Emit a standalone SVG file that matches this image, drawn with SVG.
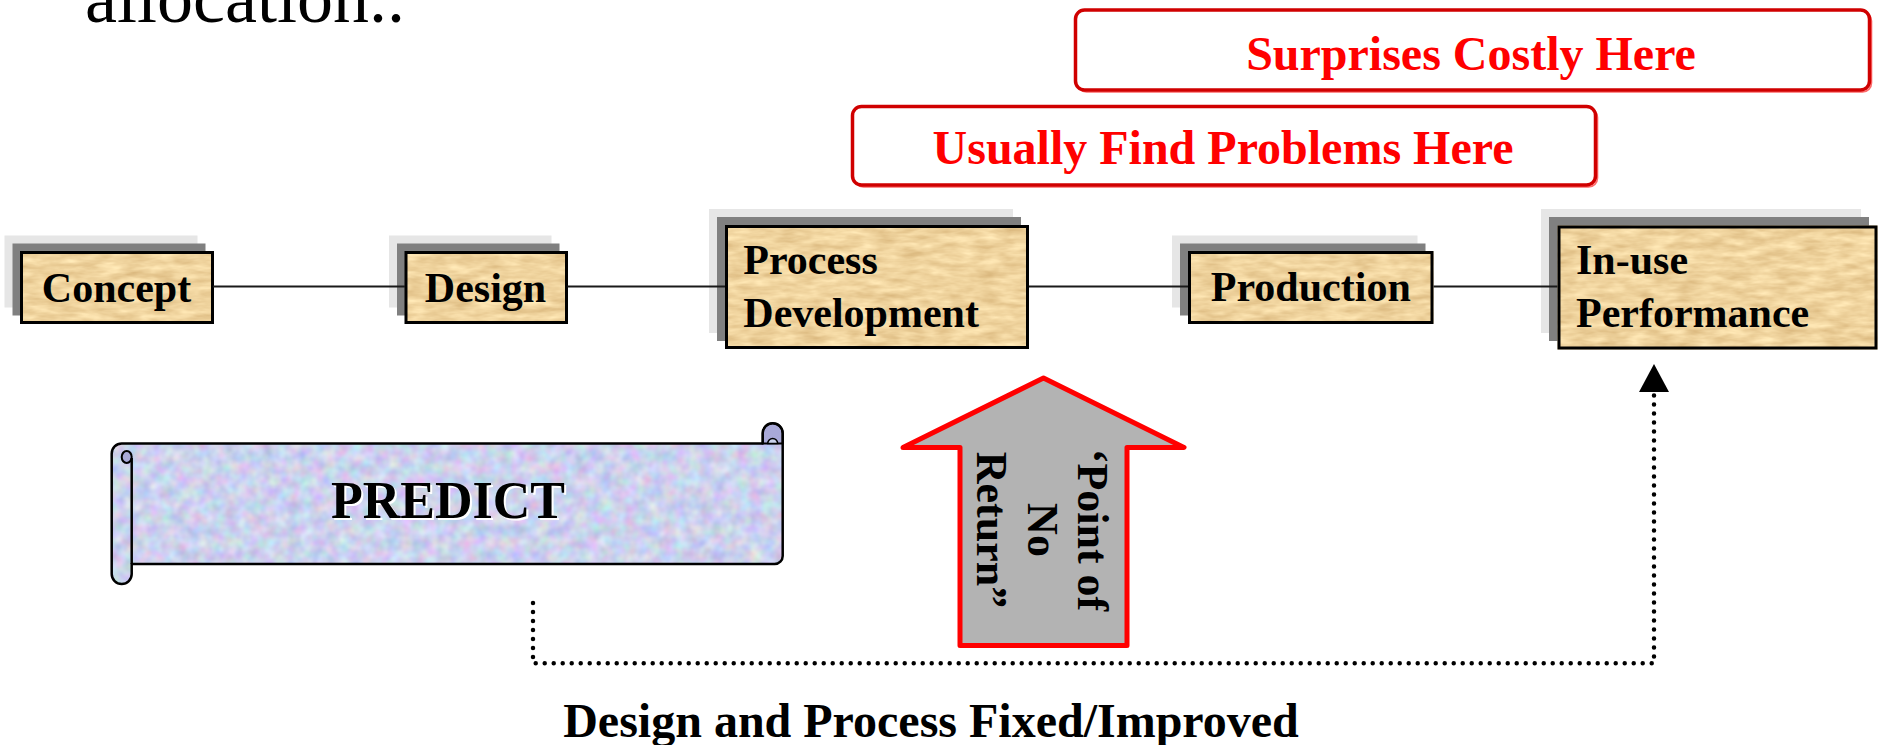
<svg xmlns="http://www.w3.org/2000/svg" width="1879" height="745" viewBox="0 0 1879 745">
  <style>
    .serif { font-family: "Liberation Serif", "Times New Roman", serif; }
    .node-text { font-family: "Liberation Serif", "Times New Roman", serif; font-weight: bold; font-size: 42px; fill: #000; }
    .shadow-far { fill: #e6e6e6; }
    .shadow-near { fill: #808080; }
    .box-fill { fill: #eed7a2; filter: url(#paper); }
    .box-edge { fill: none; stroke: #000; stroke-width: 3; }
    .callout-edge { fill: #fff; stroke: #d00000; stroke-width: 3.5; }
    .callout-glow { fill: none; stroke: #ff6a6a; stroke-width: 1.6; }
    .callout-text { font-family: "Liberation Serif", "Times New Roman", serif; font-weight: bold; font-size: 48px; fill: #ff0000; text-anchor: middle; }
    .link { stroke: #1a1a1a; stroke-width: 2; fill: none; }
    .dotted { fill: none; stroke: #000; stroke-width: 4.5; stroke-linecap: round; stroke-dasharray: 0 9; }
    .scroll-line { fill: none; stroke: #000; stroke-width: 2.5; stroke-linejoin: round; }
    .knob { fill: #a9a9d8; stroke: #000; stroke-width: 2; }
  </style>
  <defs>
    <!-- parchment grain for the stage boxes -->
    <filter id="paper" x="0" y="0" width="1" height="1" color-interpolation-filters="sRGB">
      <feTurbulence type="fractalNoise" baseFrequency="0.04 0.14" numOctaves="3" seed="5" result="n"/>
      <feColorMatrix in="n" type="matrix" values="0.2 0 0 0 0.84  0.26 0 0 0 0.70  0.3 0 0 0 0.47  0 0 0 0 1" result="c"/>
      <feComposite in="c" in2="SourceGraphic" operator="in"/>
    </filter>
    <!-- pastel mottled fill for the scroll -->
    <filter id="pastel" x="0" y="0" width="1" height="1" color-interpolation-filters="sRGB">
      <feTurbulence type="fractalNoise" baseFrequency="0.08" numOctaves="2" seed="11" result="n"/>
      <feColorMatrix in="n" type="matrix" values="0.3 0 0 0 0.65  0 0.3 0 0 0.67  0 0 0.2 0 0.83  0 0 0 0 1" result="c"/>
      <feComposite in="c" in2="SourceGraphic" operator="in"/>
    </filter>
    <marker id="head" viewBox="0 0 28 30" refX="0" refY="15" markerWidth="28" markerHeight="30" markerUnits="userSpaceOnUse" orient="auto">
      <path d="M0,0 L28,15 L0,30 Z" fill="#000" stroke="none"/>
    </marker>
  </defs>

  <rect width="1879" height="745" fill="#fff"/>

  <!-- heading fragment running off the top edge -->
  <text class="serif" x="85" y="21.7" font-size="72" fill="#000">allocation..</text>

  <!-- red callouts -->
  <g id="callout-surprises">
    <rect class="callout-glow" x="1077.5" y="12" width="794" height="80" rx="9"/>
    <rect class="callout-edge" x="1075.5" y="10" width="794" height="80" rx="9"/>
    <text class="callout-text" x="1471" y="70">Surprises Costly Here</text>
  </g>
  <g id="callout-problems">
    <rect class="callout-glow" x="854.5" y="108.5" width="743" height="78.5" rx="9"/>
    <rect class="callout-edge" x="852.5" y="106.5" width="743" height="78.5" rx="9"/>
    <text class="callout-text" x="1223" y="164">Usually Find Problems Here</text>
  </g>

  <!-- stage boxes: two stacked shadows, textured face, black edge -->
  <g id="node-concept">
    <rect class="shadow-far" x="4.5" y="235.5" width="193" height="72"/>
    <rect class="shadow-near" x="12.5" y="243.5" width="193" height="72"/>
    <rect class="box-fill" x="20.5" y="251.5" width="193" height="72"/>
    <rect class="box-edge" x="21.5" y="252.5" width="191" height="70"/>
    <text class="node-text" x="116.5" y="301.7" text-anchor="middle">Concept</text>
  </g>
  <g id="node-design">
    <rect class="shadow-far" x="389" y="235.5" width="162.5" height="72"/>
    <rect class="shadow-near" x="397" y="243.5" width="162.5" height="72"/>
    <rect class="box-fill" x="405" y="251.5" width="162.5" height="72"/>
    <rect class="box-edge" x="406" y="252.5" width="160.5" height="70"/>
    <text class="node-text" x="485.5" y="301.7" text-anchor="middle">Design</text>
  </g>
  <g id="node-process-development">
    <rect class="shadow-far" x="709" y="209" width="304" height="124"/>
    <rect class="shadow-near" x="717" y="217" width="304" height="124"/>
    <rect class="box-fill" x="725" y="225" width="304" height="124"/>
    <rect class="box-edge" x="726.5" y="226.5" width="301" height="121"/>
    <text class="node-text" x="743.3" y="274">Process</text>
    <text class="node-text" x="743.3" y="326.7">Development</text>
  </g>
  <g id="node-production">
    <rect class="shadow-far" x="1172" y="235.5" width="245.5" height="72"/>
    <rect class="shadow-near" x="1180" y="243.5" width="245.5" height="72"/>
    <rect class="box-fill" x="1188" y="251.5" width="245.5" height="72"/>
    <rect class="box-edge" x="1189.5" y="252.5" width="242.5" height="70"/>
    <text class="node-text" x="1310.8" y="300.5" text-anchor="middle">Production</text>
  </g>
  <g id="node-in-use-performance">
    <rect class="shadow-far" x="1541" y="209" width="320" height="124"/>
    <rect class="shadow-near" x="1549" y="217" width="320" height="124"/>
    <rect class="box-fill" x="1557.5" y="225.5" width="320" height="124"/>
    <rect class="box-edge" x="1559" y="227" width="317" height="121"/>
    <text class="node-text" x="1576" y="274.3">In-use</text>
    <text class="node-text" x="1576" y="326.7">Performance</text>
  </g>

  <!-- PREDICT scroll -->
  <g id="node-predict">
    <path fill="#cbd2ec" filter="url(#pastel)"
          d="M 121.7 443.5 H 762.7 V 433.3 A 10 10 0 0 1 782.7 433.3 V 556 A 8 8 0 0 1 774.7 564 H 131.7 V 574 A 10 10 0 0 1 111.7 574 V 453.5 A 10 10 0 0 1 121.7 443.5 Z"/>
    <!-- right roll top curl -->
    <path class="knob" d="M 762.7 443.5 V 433.3 A 10 10 0 0 1 782.7 433.3 V 443.5 Z"/>
    <path d="M 767.7 443.5 A 5 5 0 0 1 777.7 443.5 Z" fill="#cbd2ec" stroke="#000" stroke-width="1.5"/>
    <!-- left roll top curl -->
    <ellipse class="knob" cx="126.7" cy="457" rx="5" ry="6"/>
    <path class="scroll-line" d="M 131.7 458 V 564"/>
    <path class="scroll-line"
          d="M 121.7 443.5 H 762.7 V 433.3 A 10 10 0 0 1 782.7 433.3 V 556 A 8 8 0 0 1 774.7 564 H 131.7 V 574 A 10 10 0 0 1 111.7 574 V 453.5 A 10 10 0 0 1 121.7 443.5 Z"/>
    <text class="serif" x="450" y="520.3" font-size="52" font-weight="bold" fill="#fff" text-anchor="middle">PREDICT</text>
    <text class="serif" x="448" y="518.3" font-size="52" font-weight="bold" fill="#000" text-anchor="middle">PREDICT</text>
  </g>

  <!-- "Point of No Return" block arrow -->
  <g id="node-point-of-no-return">
    <polygon points="1043.5,378 1184,447.5 1127,447.5 1127,645.5 960,645.5 960,447.5 903,447.5"
             fill="#b3b3b3" stroke="#ff0000" stroke-width="5" stroke-linejoin="round"/>
    <g transform="translate(1078 530) rotate(90)" class="serif" font-size="44" font-weight="bold" fill="#000" text-anchor="middle">
      <text x="0" y="0">‘Point of</text>
      <text x="0" y="50.5">No</text>
      <text x="0" y="101">Return”</text>
    </g>
  </g>

  <!-- connectors -->
  <g id="connectors">
    <line class="link" x1="213" y1="286.5" x2="405" y2="286.5"/>
    <line class="link" x1="567.5" y1="286.5" x2="725" y2="286.5"/>
    <line class="link" x1="1029" y1="286.5" x2="1188" y2="286.5"/>
    <line class="link" x1="1433.5" y1="286.5" x2="1557.5" y2="286.5"/>
    <path class="dotted" d="M 533 603 V 663.3 H 1654 V 392" marker-end="url(#head)"/>
  </g>

  <text class="serif" x="931" y="736.7" font-size="48" font-weight="bold" fill="#000" text-anchor="middle">Design and Process Fixed/Improved</text>
</svg>
